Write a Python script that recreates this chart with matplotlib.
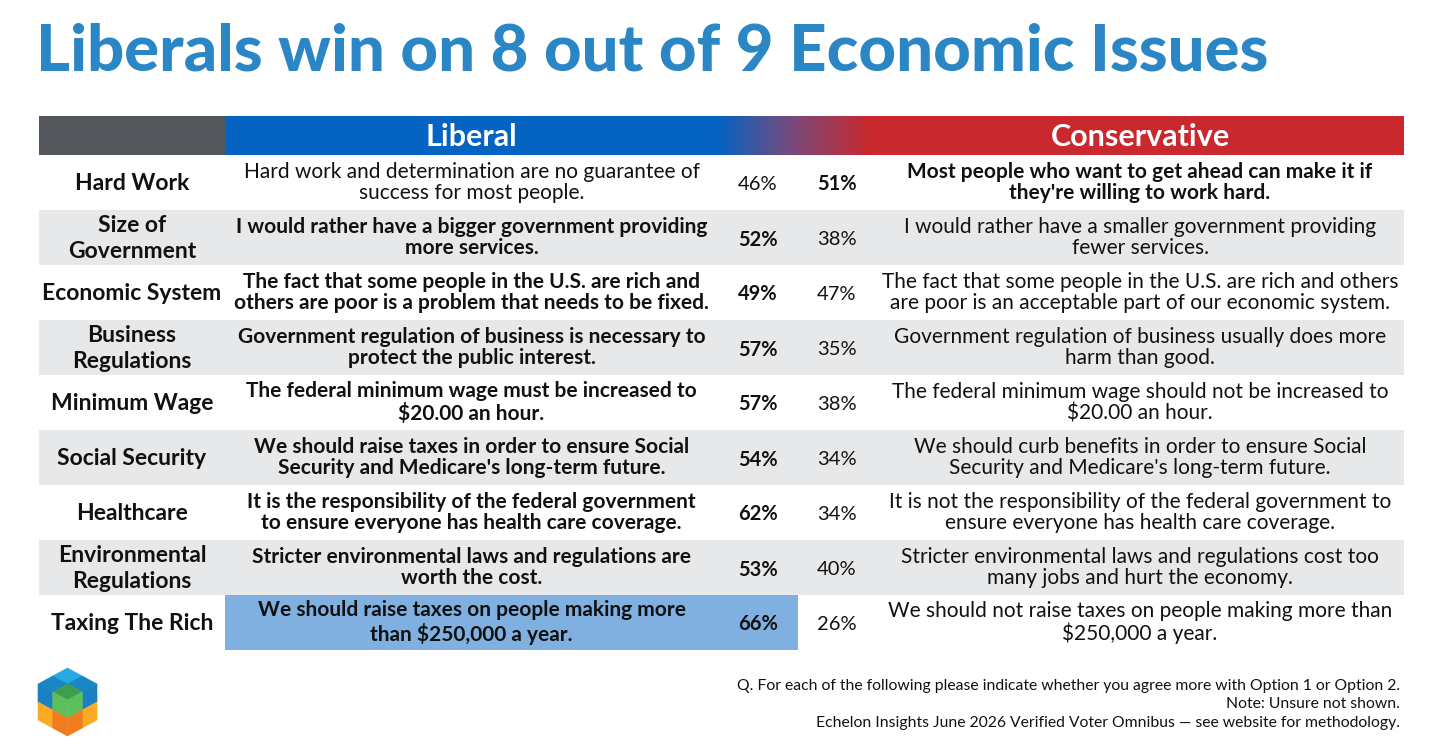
import numpy as np
import matplotlib.pyplot as plt
from matplotlib.patches import Rectangle, Polygon
from matplotlib.colors import LinearSegmentedColormap

plt.rcParams['font.family'] = ['Lato', 'DejaVu Sans']

# --- data ---
categories = ["Hard Work", "Size of\nGovernment", "Economic System", "Business\nRegulations",
              "Minimum Wage", "Social Security", "Healthcare", "Environmental\nRegulations",
              "Taxing The Rich"]
liberal_text = [
    "Hard work and determination are no guarantee of\nsuccess for most people.",
    "I would rather have a bigger government providing\nmore services.",
    "The fact that some people in the U.S. are rich and\nothers are poor is a problem that needs to be fixed.",
    "Government regulation of business is necessary to\nprotect the public interest.",
    "The federal minimum wage must be increased to\n$20.00 an hour.",
    "We should raise taxes in order to ensure Social\nSecurity and Medicare's long-term future.",
    "It is the responsibility of the federal government\nto ensure everyone has health care coverage.",
    "Stricter environmental laws and regulations are\nworth the cost.",
    "We should raise taxes on people making more\nthan $250,000 a year.",
]
conservative_text = [
    "Most people who want to get ahead can make it if\nthey're willing to work hard.",
    "I would rather have a smaller government providing\nfewer services.",
    "The fact that some people in the U.S. are rich and others\nare poor is an acceptable part of our economic system.",
    "Government regulation of business usually does more\nharm than good.",
    "The federal minimum wage should not be increased to\n$20.00 an hour.",
    "We should curb benefits in order to ensure Social\nSecurity and Medicare's long-term future.",
    "It is not the responsibility of the federal government to\nensure everyone has health care coverage.",
    "Stricter environmental laws and regulations cost too\nmany jobs and hurt the economy.",
    "We should not raise taxes on people making more than\n$250,000 a year.",
]
liberal_pct = [46, 52, 49, 57, 57, 54, 62, 53, 66]
conservative_pct = [51, 38, 47, 35, 38, 34, 34, 40, 26]

title = "Liberals win on 8 out of 9 Economic Issues"
footnotes = ["Q. For each of the following please indicate whether you agree more with Option 1 or Option 2.",
             "Note: Unsure not shown.",
             "Echelon Insights June 2026 Verified Voter Omnibus \u2014 see website for methodology."]

# --- colours / layout ---
BLUE = "#0563c1"
RED = "#c8282e"
DARK = "#53575c"
ROWGREY = "#e7e8ea"
HILITE = "#7fb0e0"
TITLE_C = "#2a86c4"
INK = "#111111"

W, H = 1456, 744
x_left, x_cat, x_lib, x_grad, x_red, x_right = 39, 225, 718, 718, 870, 1404
x_libpct, x_conpct, x_hilite_end = 758, 837, 798
head_top, head_bot = 116, 155
row_h = 55

fig = plt.figure(figsize=(W / 100, H / 100), dpi=100)
ax = fig.add_axes([0, 0, 1, 1])

ax.text(36, 52, title, fontsize=47, fontweight='black', color=TITLE_C, va='center', ha='left')

# header band
ax.add_patch(Rectangle((x_left, head_top), x_cat - x_left, head_bot - head_top, color=DARK, lw=0))
ax.add_patch(Rectangle((x_cat, head_top), x_grad - x_cat, head_bot - head_top, color=BLUE, lw=0))
ax.add_patch(Rectangle((x_red, head_top), x_right - x_red, head_bot - head_top, color=RED, lw=0))
grad = LinearSegmentedColormap.from_list("br", [BLUE, "#7a4a7a", RED])
ax.imshow(np.linspace(0, 1, 200)[None, :], cmap=grad, aspect='auto',
          extent=(x_grad, x_red, head_bot, head_top), zorder=1)
ax.set_xlim(0, W)
ax.set_ylim(H, 0)
ax.axis('off')
ax.text((x_cat + x_lib) / 2, (head_top + head_bot) / 2 + 1, "Liberal", color="white",
        fontsize=22, fontweight='bold', ha='center', va='center')
ax.text((x_red + x_right) / 2 + 3, (head_top + head_bot) / 2 + 1, "Conservative", color="white",
        fontsize=22, fontweight='bold', ha='center', va='center')

margins = [l - c for l, c in zip(liberal_pct, conservative_pct)]
best = int(np.argmax(margins))

for i, cat in enumerate(categories):
    top = head_bot + i * row_h
    yc = top + row_h / 2
    if i % 2 == 1:
        ax.add_patch(Rectangle((x_left, top), x_right - x_left, row_h, color=ROWGREY, lw=0))
    if i == best:
        ax.add_patch(Rectangle((x_cat, top), x_hilite_end - x_cat, row_h, color=HILITE, lw=0))
    lib_wins = liberal_pct[i] > conservative_pct[i]
    lw_lib = 'bold' if lib_wins else 'normal'
    lw_con = 'normal' if lib_wins else 'bold'
    ax.text((x_left + x_cat) / 2, yc + 1, cat, fontsize=16.5, fontweight='bold', ha='center',
            va='center', linespacing=1.3, color=INK)
    ax.text((x_cat + x_lib) / 2, yc, liberal_text[i], fontsize=15, fontweight=lw_lib, ha='center',
            va='center', linespacing=1.12, color=INK, parse_math=False)
    ax.text(x_libpct, yc + 2, f"{liberal_pct[i]}%", fontsize=14.5, fontweight=lw_lib, ha='center',
            va='center', color=INK)
    ax.text(x_conpct, yc + 2, f"{conservative_pct[i]}%", fontsize=14.5, fontweight=lw_con,
            ha='center', va='center', color=INK)
    ax.text((x_red + x_right) / 2 + 3, yc, conservative_text[i], fontsize=15, fontweight=lw_con,
            ha='center', va='center', linespacing=1.12, color=INK, parse_math=False)

# footnotes
for k, line in enumerate(footnotes):
    ax.text(1400, 686 + k * 18.5, line, fontsize=11.3, ha='right', va='center', color=INK)

# logo: isometric hexagon made of rhombi (2x2 per face)
T = np.array([67.5, 668.0])
u = np.array([29.5 / 2, 8.0])
v = np.array([-29.5 / 2, 8.0])
d = np.array([0.0, 18.0])
top_cols = {(0, 0): "#29a9e1", (1, 0): "#1987c6", (0, 1): "#1987c6", (1, 1): "#3e9d4e"}
side_cols = {(0, 0): "#1a80c2", (1, 0): "#5cbf5b", (0, 1): "#f9ab24", (1, 1): "#f07c21"}
for (i, j), col in top_cols.items():
    p = T + i * u + j * v
    ax.add_patch(Polygon([p, p + u, p + u + v, p + v], closed=True, color=col, lw=0.4))
L0 = T + 2 * v
C = T + 2 * u + 2 * v
for (i, k), col in side_cols.items():
    # left face: i = 0 is the outer column
    p = L0 + i * u + k * d
    ax.add_patch(Polygon([p, p + u, p + u + d, p + d], closed=True, color=col, lw=0.4))
    # right face mirrored: i = 0 is the outer column
    q = C - (1 - i) * v + k * d
    ax.add_patch(Polygon([q, q - v, q - v + d, q + d], closed=True, color=col, lw=0.4))

fig.savefig("out.png", dpi=100)
